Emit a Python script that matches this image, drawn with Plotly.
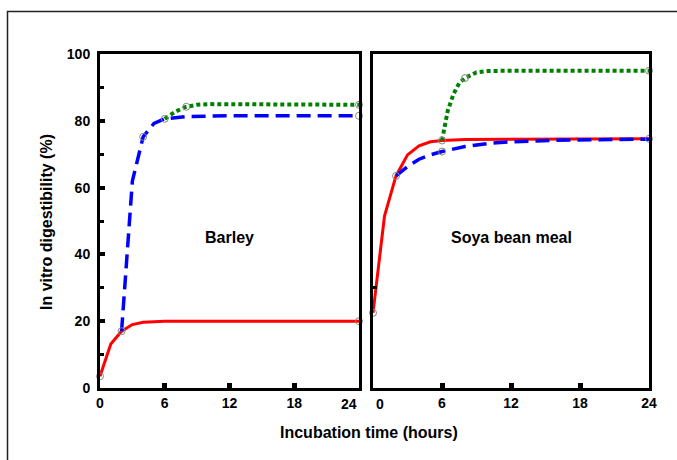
import plotly.graph_objects as go

# ---------------- data ----------------
# Barley
barley_red_t = [0, 1, 2, 3, 4, 5, 6, 8, 12, 24]
barley_red = [3.5, 13.2, 17, 19, 19.7, 19.9, 20, 20, 20, 20]
barley_blue_t = [2, 3, 4, 5, 6, 8, 12, 24]
barley_blue = [17, 62, 75.2, 79.2, 80.6, 81.3, 81.5, 81.5]
barley_green_t = [6, 7, 8, 9, 10, 12, 24]
barley_green = [80.6, 82.8, 84.2, 84.8, 85, 85, 84.8]
barley_obs_t = [0, 2, 4, 6, 8, 24, 24, 24]
barley_obs = [3.5, 17, 75.2, 80.6, 84.2, 84.8, 81.5, 20]

# Soya bean meal
soya_red_t = [0, 1, 2, 3, 4, 5, 6, 8, 12, 24]
soya_red = [22.5, 51.5, 63.5, 69.8, 72.5, 73.7, 74.1, 74.4, 74.5, 74.6]
soya_blue_t = [2, 3, 4, 5, 6, 8, 10, 12, 16, 20, 24]
soya_blue = [63.5, 66.3, 68.5, 69.8, 70.8, 72.3, 73.2, 73.7, 74.2, 74.4, 74.5]
soya_green_t = [6, 6.5, 7, 7.5, 8, 9, 10, 12, 24]
soya_green = [74.1, 83, 88, 91.3, 92.8, 94.5, 94.9, 95, 95]
soya_obs_t = [0, 2, 6, 6, 8, 24, 24]
soya_obs = [22.5, 63.5, 74.1, 70.8, 92.8, 95, 74.6]

x_ticks = [0, 6, 12, 18, 24]
x_labels_left = ["0", "6", "12", "18", ""]
x_labels_right = ["", "6", "12", "18", "24"]
y_ticks = [0, 20, 40, 60, 80, 100]

panel_names = ["Barley", "Soya bean meal"]
x_title = "Incubation time (hours)"
y_title = "In vitro digestibility (%)"

RED = "#ff0000"
BLUE = "#0000ff"
GREEN = "#008000"
FONT = "Arial, Liberation Sans, sans-serif"

fig = go.Figure()

def add_panel(xa, ya, red_t, red, blue_t, blue, green_t, green, obs_t, obs):
    fig.add_trace(go.Scatter(x=red_t, y=red, mode="lines", xaxis=xa, yaxis=ya,
                             line=dict(color=RED, width=3), cliponaxis=False))
    fig.add_trace(go.Scatter(x=blue_t, y=blue, mode="lines", xaxis=xa, yaxis=ya,
                             line=dict(color=BLUE, width=3.5, dash="14px,7px"), cliponaxis=False))
    fig.add_trace(go.Scatter(x=green_t, y=green, mode="lines", xaxis=xa, yaxis=ya,
                             line=dict(color=GREEN, width=4, dash="4px,3px"), cliponaxis=False))
    fig.add_trace(go.Scatter(x=obs_t, y=obs, mode="markers", xaxis=xa, yaxis=ya,
                             marker=dict(symbol="circle-open", size=7, color="#888888",
                                         line=dict(width=1, color="#888888")),
                             cliponaxis=False))

add_panel("x", "y", barley_red_t, barley_red, barley_blue_t, barley_blue,
          barley_green_t, barley_green, barley_obs_t, barley_obs)
add_panel("x2", "y2", soya_red_t, soya_red, soya_blue_t, soya_blue,
          soya_green_t, soya_green, soya_obs_t, soya_obs)

W, H = 677, 460
dom1 = [100 / W, 359 / W]
dom2 = [373 / W, 649 / W]
ydom = [1 - 388 / H, 1 - 54 / H]

tickfont = dict(family=FONT, size=14, color="black", weight="bold")

xcommon = dict(range=[0, 24], tickvals=x_ticks, ticks="inside", ticklen=5, tickwidth=5,
               tickcolor="black", showline=True, linecolor="black", linewidth=3,
               mirror=True, showgrid=False, zeroline=False, tickfont=tickfont,
               automargin=False, fixedrange=True)

fig.update_layout(
    width=W, height=H,
    autosize=False,
    margin=dict(l=0, r=0, t=0, b=0, pad=0, autoexpand=False),
    paper_bgcolor="white", plot_bgcolor="white",
    showlegend=False,
    xaxis=dict(domain=dom1, anchor="y", ticktext=x_labels_left, **xcommon),
    xaxis2=dict(domain=dom2, anchor="y2", ticktext=x_labels_right, **xcommon),
    yaxis=dict(domain=ydom, anchor="x", range=[0, 100], tickvals=y_ticks,
               ticks="inside", ticklen=5, tickwidth=4, tickcolor="black",
               minor=dict(dtick=10, ticks="inside", ticklen=4, tickwidth=3, tickcolor="black"),
               showline=True, linecolor="black", linewidth=3, mirror=True,
               showgrid=False, zeroline=False, tickfont=tickfont, ticklabelstandoff=4,
               automargin=False, fixedrange=True),
    yaxis2=dict(domain=ydom, anchor="x2", range=[0, 100], tickvals=[30],
                ticks="inside", ticklen=4, tickwidth=3, tickcolor="black",
                showticklabels=False,
                showline=True, linecolor="black", linewidth=3, mirror=True,
                showgrid=False, zeroline=False, automargin=False, fixedrange=True),
)

lblfont = dict(family=FONT, size=14, color="black", weight="bold")
# crowded end labels at the panel junction, nudged apart as in the original
fig.add_annotation(x=x_ticks[-1], y=ydom[0], xref="x", yref="paper", text=str(x_ticks[-1]),
                   showarrow=False, xanchor="center", yanchor="top", xshift=-10, yshift=-6,
                   font=lblfont)
fig.add_annotation(x=x_ticks[0], y=ydom[0], xref="x2", yref="paper", text=str(x_ticks[0]),
                   showarrow=False, xanchor="center", yanchor="top", xshift=7, yshift=-6,
                   font=lblfont)

# panel labels
fig.add_annotation(x=12, y=45, xref="x", yref="y", text=panel_names[0], showarrow=False,
                   xanchor="center", yanchor="middle",
                   font=dict(family=FONT, size=16, color="black", weight="bold"))
fig.add_annotation(x=12, y=45, xref="x2", yref="y2", text=panel_names[1], showarrow=False,
                   xanchor="center", yanchor="middle",
                   font=dict(family=FONT, size=16, color="black", weight="bold"))

# axis titles
fig.add_annotation(x=369 / W, y=1 - 432 / H, xref="paper", yref="paper", text=x_title,
                   xanchor="center", yanchor="middle",
                   showarrow=False, font=dict(family=FONT, size=16, color="black", weight="bold"))
fig.add_annotation(x=46 / W, y=1 - 222 / H, xref="paper", yref="paper", text=y_title,
                   xanchor="center", yanchor="middle",
                   textangle=-90, showarrow=False,
                   font=dict(family=FONT, size=16, color="black", weight="bold"))

# outer frame
fig.add_shape(type="rect", xref="paper", yref="paper", x0=7.5 / W, x1=1.02,
              y0=-0.02, y1=1 - 11.5 / H, line=dict(color="#222222", width=1.5))

fig.write_html("out.html", config={"responsive": False, "displayModeBar": False},
               post_script="document.body.style.margin='0';document.body.style.overflow='hidden';")
